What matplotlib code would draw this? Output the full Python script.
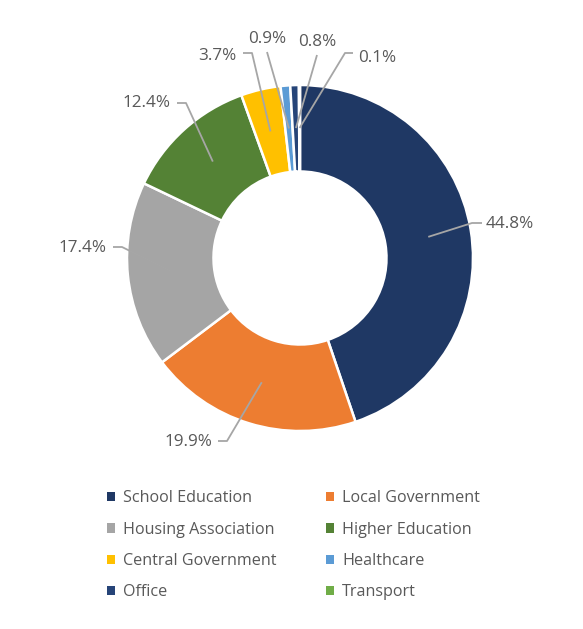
import numpy as np
import matplotlib.pyplot as plt
from matplotlib.patches import Patch

# data
sectors = ["School Education", "Local Government", "Housing Association", "Higher Education",
           "Central Government", "Healthcare", "Office", "Transport"]
shares = [44.8, 19.9, 17.4, 12.4, 3.7, 0.9, 0.8, 0.1]
colors = ["#1F3864", "#ED7D31", "#A5A5A5", "#548235", "#FFC000", "#5B9BD5", "#264478", "#70AD47"]

# label text centre (pixels from top-left), leader bend point and stub end x
label_pos = [(510, 224), (188, 442), (82, 248), (146, 103), (217, 56), (267, 39), (317, 42), (377, 58)]
bend = [(472, 223), (227, 441), (122, 247), (186, 103), (252, 53), (267, 52), (317, 55), (345, 53)]
stub_x = [482, 218, 113, 177, 243, None, None, 353]

W, H = 583, 629
plt.rcParams['font.family'] = ['Open Sans', 'DejaVu Sans']
fig = plt.figure(figsize=(W / 100, H / 100), dpi=100)
ax = fig.add_axes([0, 0, 1, 1])

cx, cy, R = 300, H - 258, 173
wedges, _ = ax.pie(shares, colors=colors, startangle=90, counterclock=False,
                   center=(cx, cy), radius=R, frame=True,
                   wedgeprops=dict(width=R * 0.5, edgecolor='white', linewidth=1.8))
ax.set_xlim(0, W)
ax.set_ylim(0, H)
ax.set_aspect('equal')
ax.axis('off')

gray = "#A6A6A6"
txt = "#595959"
for w, v, (tx, ty), (bx, by), sx in zip(wedges, shares, label_pos, bend, stub_x):
    ang = np.deg2rad((w.theta1 + w.theta2) / 2)
    xs = [cx + 130 * np.cos(ang), bx]
    ys = [cy + 130 * np.sin(ang), H - by]
    if sx is not None:
        xs.append(sx)
        ys.append(H - by)
    ax.plot(xs, ys, color=gray, lw=1.3, solid_capstyle='butt')
    ax.text(tx, H - ty, f"{v:.1f}%", ha='center', va='center', fontsize=12.3, color=txt)

# legend filled row by row like the original
order = [0, 2, 4, 6, 1, 3, 5, 7]
handles = [Patch(facecolor=colors[i], edgecolor='none') for i in order]
labels = [sectors[i] for i in order]
leg = ax.legend(handles, labels, ncol=2, loc='upper left',
                bbox_to_anchor=(92 / W, 1 - 476 / H), frameon=False,
                handlelength=0.5, handleheight=0.5, handletextpad=0.5,
                columnspacing=3.1, labelspacing=0.95, fontsize=11.6)
for t in leg.get_texts():
    t.set_color(txt)

fig.savefig("out.png", dpi=100, facecolor='white')
